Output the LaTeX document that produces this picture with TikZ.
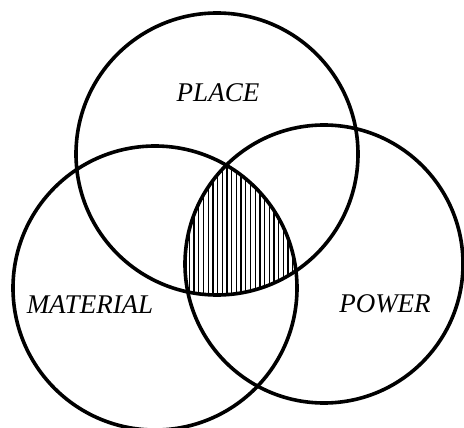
\documentclass[tikz,border=0pt]{standalone}
\usepackage{fontspec}
\setmainfont{Liberation Serif}
\usetikzlibrary{positioning}

\tikzset{
  ring/.style={line width=3.6pt},
  hatch/.style={line width=1.3pt},
  setname/.style={font=\fontsize{27}{30}\selectfont\itshape, inner sep=0pt}
}

\begin{document}
\begin{tikzpicture}[x=1pt, y=-1pt]
  \useasboundingbox (0,0) rectangle (464,428);
  % circle centres
  \coordinate (cplace)    at (217,154);
  \coordinate (cmaterial) at (155,288);
  \coordinate (cpower)    at (324,264);
  % hatching in the triple overlap
  \begin{scope}
    \clip (cplace) circle (141pt);
    \clip (cmaterial) circle (142pt);
    \clip (cpower) circle (139pt);
    \foreach \x in {180,184.7,...,310}
      \draw[hatch] (\x,150) -- (\x,310);
  \end{scope}
  % the three sets
  \draw[ring] (cplace) circle (141pt);
  \draw[ring] (cmaterial) circle (142pt);
  \draw[ring] (cpower) circle (139pt);
  % set names
  \node[setname] (place)    at (218,93)  {PLACE};
  \node[setname] (material) at (90,305)  {MATERIAL};
  \node[setname] (power)    at (385,304) {POWER};
\end{tikzpicture}
\end{document}
